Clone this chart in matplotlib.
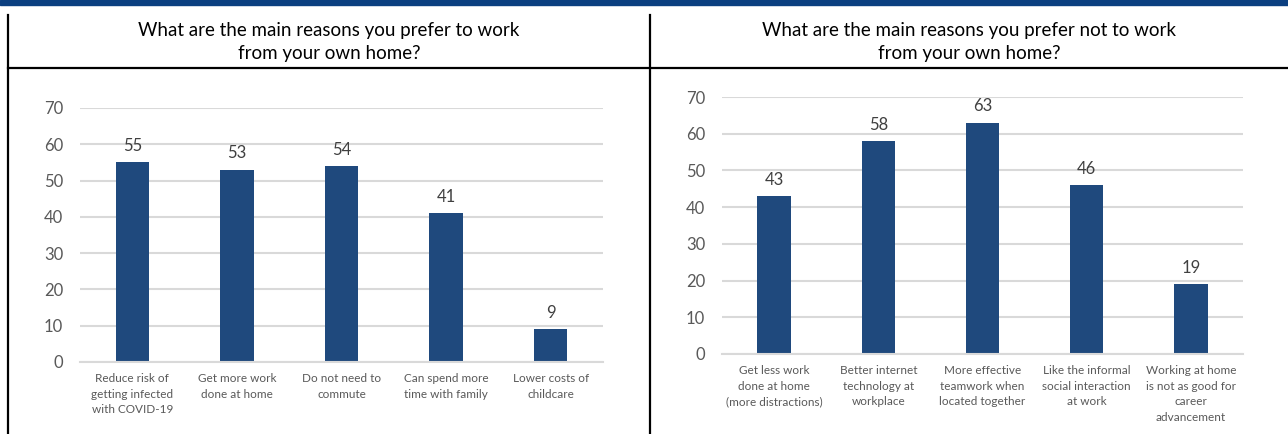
import matplotlib.pyplot as plt
from matplotlib.lines import Line2D
from matplotlib.patches import Rectangle

# ── Data ──────────────────────────────────────────────
left_title = "What are the main reasons you prefer to work\nfrom your own home?"
left_cats = ["Reduce risk of\ngetting infected\nwith COVID-19", "Get more work\ndone at home",
             "Do not need to\ncommute", "Can spend more\ntime with family", "Lower costs of\nchildcare"]
left_vals = [55, 53, 54, 41, 9]

right_title = "What are the main reasons you prefer not to work\nfrom your own home?"
right_cats = ["Get less work\ndone at home\n(more distractions)", "Better internet\ntechnology at\nworkplace",
              "More effective\nteamwork when\nlocated together", "Like the informal\nsocial interaction\nat work",
              "Working at home\nis not as good for\ncareer\nadvancement"]
right_vals = [43, 58, 63, 46, 19]

yticks = [0, 10, 20, 30, 40, 50, 60, 70]

# ── Style ─────────────────────────────────────────────
plt.rcParams['font.family'] = ['Lato', 'DejaVu Sans']
W, H = 1288, 434
BAR = "#1F497D"
GRID = "#D9D9D9"
TICK = "#595959"


def px_axes(fig, x0, x1, ytop, ybot):
    return fig.add_axes([x0 / W, (H - ybot) / H, (x1 - x0) / W, (ybot - ytop) / H])


def draw_panel(ax, cats, vals):
    x = range(len(cats))
    ax.bar(x, vals, width=0.32, color=BAR, zorder=3)
    for i, v in zip(x, vals):
        ax.text(i, v + 2.3, str(v), ha='center', va='bottom', fontsize=12, color="#404040")
    ax.set_xlim(-0.5, len(cats) - 0.5)
    ax.set_ylim(0, 70)
    ax.set_yticks(yticks)
    ax.yaxis.grid(True, color=GRID, linewidth=1.5, zorder=0)
    ax.set_axisbelow(True)
    ax.set_xticks(list(x))
    ax.set_xticklabels(cats, fontsize=8.5, color=TICK, linespacing=1.5)
    ax.tick_params(axis='y', labelsize=12, labelcolor=TICK, length=0, pad=12)
    ax.tick_params(axis='x', length=0, pad=8)
    for s in ['top', 'right', 'left']:
        ax.spines[s].set_visible(False)
    ax.spines['bottom'].set_color(GRID)
    ax.spines['bottom'].set_linewidth(1.5)
    ax.spines['bottom'].set_zorder(4)


fig = plt.figure(figsize=(W / 100, H / 100), dpi=100)

# top banner and frame lines
fig.add_artist(Rectangle((0, 1 - 5 / H), 1, 5 / H, transform=fig.transFigure, color="#0B3F80"))
fig.add_artist(Line2D([8 / W, 8 / W], [0, 1 - 15 / H], color='black', lw=1.6))
fig.add_artist(Line2D([650 / W, 650 / W], [0, 1 - 15 / H], color='black', lw=1.6))
fig.add_artist(Line2D([8 / W, 1], [1 - 68 / H] * 2, color='black', lw=1.6))

fig.text(329 / W, 1 - 42 / H, left_title, ha='center', va='center', fontsize=13.5, linespacing=1.4)
fig.text(969 / W, 1 - 42 / H, right_title, ha='center', va='center', fontsize=13.5, linespacing=1.4)

ax1 = px_axes(fig, 80, 603, 108, 362)
draw_panel(ax1, left_cats, left_vals)

ax2 = px_axes(fig, 722, 1243, 97, 354)
draw_panel(ax2, right_cats, right_vals)

fig.savefig("out.png", dpi=100)
